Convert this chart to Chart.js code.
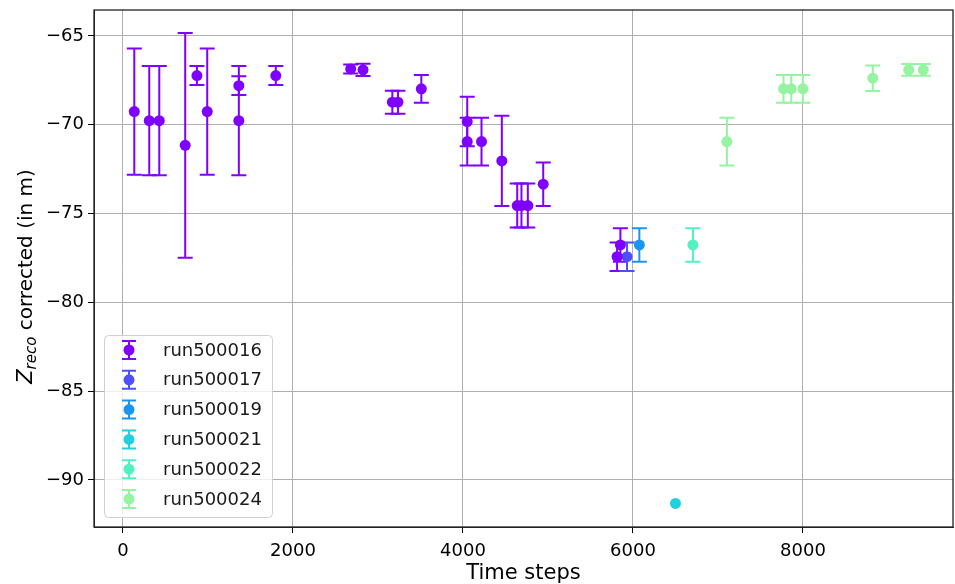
<!DOCTYPE html>
<html lang="en">
<head>
    <meta charset="UTF-8">
    <title>Zreco corrected vs time steps</title>
    <script src="https://cdn.jsdelivr.net/npm/chart.js"></script>
    <style>
        body { margin: 0; background: #fff; }
        #chart-container { width: 955px; height: 584px; }
    </style>
</head>
<body>
    <div id="chart-container">
        <canvas id="zChart" width="955" height="584"></canvas>
    </div>

    <script>
        // run names and colours (rainbow colormap)
        const runNames = ["run500016", "run500017", "run500019", "run500021", "run500022", "run500024"];
        const runColors = ["#8000ff", "#4d4ffc", "#1a96f2", "#1fd0de", "#52f1c4", "#95f3a2"];

        // time step, Z value, error
        const steps16 = [133, 309, 427, 732, 870, 991, 1363, 1363, 1798, 2679, 2824, 3169, 3235, 3510,
                         4050, 4050, 4218, 4457, 4638, 4688, 4763, 4944, 5813, 5852];
        const z16 = [-69.26, -69.77, -69.77, -71.16, -67.23, -69.26, -67.80, -69.77, -67.23, -66.86, -66.91, -68.73, -68.73, -67.98,
                     -69.82, -70.95, -70.95, -72.04, -74.55, -74.55, -74.55, -73.35, -77.43, -76.77];
        const err16 = [3.55, 3.07, 3.07, 6.33, 0.53, 3.55, 0.53, 3.07, 0.53, 0.25, 0.35, 0.65, 0.65, 0.78,
                       1.39, 1.35, 1.35, 2.54, 1.24, 1.24, 1.24, 1.22, 0.80, 0.94];

        const steps17 = [5930];
        const z17 = [-77.43];
        const err17 = [0.80];

        const steps19 = [6075];
        const z19 = [-76.77];
        const err19 = [0.94];

        const steps21 = [6500];
        const z21 = [-91.32];
        const err21 = [0];

        const steps22 = [6705];
        const z22 = [-76.77];
        const err22 = [0.94];

        const steps24 = [7105, 7771, 7862, 7999, 8821, 9244, 9416];
        const z24 = [-70.95, -67.98, -67.98, -67.98, -67.38, -66.91, -66.91];
        const err24 = [1.35, 0.78, 0.78, 0.78, 0.72, 0.33, 0.33];

        const xTicks = [0, 2000, 4000, 6000, 8000];
        const yTicks = [-90, -85, -80, -75, -70, -65];

        const allSteps = [steps16, steps17, steps19, steps21, steps22, steps24];
        const allZ = [z16, z17, z19, z21, z22, z24];
        const allErr = [err16, err17, err19, err21, err22, err24];

        const datasets = runNames.map((name, i) => ({
            label: name,
            data: allSteps[i].map((s, j) => ({ x: s, y: allZ[i][j], err: allErr[i][j] })),
            backgroundColor: runColors[i],
            borderColor: runColors[i],
            borderWidth: 0,
            pointRadius: 5.5,
            pointHoverRadius: 5.5
        }));

        const minus = v => (v < 0 ? "\u2212" + Math.abs(v) : String(v));

        // vertical error bars with caps
        const errorBars = {
            id: "errorBars",
            beforeDatasetsDraw(chart) {
                const { ctx, chartArea, scales: { x, y } } = chart;
                ctx.save();
                ctx.beginPath();
                ctx.rect(chartArea.left, chartArea.top, chartArea.right - chartArea.left, chartArea.bottom - chartArea.top);
                ctx.clip();
                chart.data.datasets.forEach(ds => {
                    ctx.strokeStyle = ds.backgroundColor;
                    ctx.lineWidth = 2;
                    ds.data.forEach(p => {
                        if (!p.err) return;
                        const px = x.getPixelForValue(p.x);
                        const top = y.getPixelForValue(p.y + p.err);
                        const bot = y.getPixelForValue(p.y - p.err);
                        ctx.beginPath();
                        ctx.moveTo(px, top); ctx.lineTo(px, bot);
                        ctx.moveTo(px - 7.5, top); ctx.lineTo(px + 7.5, top);
                        ctx.moveTo(px - 7.5, bot); ctx.lineTo(px + 7.5, bot);
                        ctx.stroke();
                    });
                });
                ctx.restore();
            },
            afterDraw(chart) {
                const { ctx, chartArea: a } = chart;
                ctx.save();
                // axes frame
                ctx.strokeStyle = "#222";
                ctx.lineWidth = 1.3;
                ctx.strokeRect(a.left, a.top, a.right - a.left, a.bottom - a.top);

                // y axis title with subscript
                ctx.fillStyle = "#000";
                ctx.translate(32, (a.top + a.bottom) / 2 + 8);
                ctx.rotate(-Math.PI / 2);
                ctx.textBaseline = "alphabetic";
                const big = "italic 21px 'DejaVu Sans'";
                const small = "italic 15px 'DejaVu Sans'";
                const rest = "20px 'DejaVu Sans'";
                ctx.font = big; const wZ = ctx.measureText("Z").width;
                ctx.font = small; const wS = ctx.measureText("reco").width;
                ctx.font = rest; const wR = ctx.measureText(" corrected (in m)").width;
                let cx = -(wZ + wS + wR) / 2;
                ctx.font = big; ctx.fillText("Z", cx, 0); cx += wZ;
                ctx.font = small; ctx.fillText("reco", cx, 4); cx += wS;
                ctx.font = rest; ctx.fillText(" corrected (in m)", cx, 0);
                ctx.restore();

                // legend
                const lx = 104, ly = 335, lw = 168, lh = 182;
                ctx.save();
                ctx.fillStyle = "rgba(255,255,255,0.8)";
                ctx.strokeStyle = "#d0d0d0";
                ctx.lineWidth = 1;
                ctx.beginPath();
                ctx.roundRect(lx + 0.5, ly + 0.5, lw, lh, 4);
                ctx.fill();
                ctx.stroke();
                runNames.forEach((name, i) => {
                    const ry = 350 + i * 29.8;
                    const sx = 129;
                    ctx.strokeStyle = runColors[i];
                    ctx.fillStyle = runColors[i];
                    ctx.lineWidth = 2;
                    ctx.beginPath();
                    ctx.moveTo(sx, ry - 9); ctx.lineTo(sx, ry + 9);
                    ctx.moveTo(sx - 7, ry - 9); ctx.lineTo(sx + 7, ry - 9);
                    ctx.moveTo(sx - 7, ry + 9); ctx.lineTo(sx + 7, ry + 9);
                    ctx.stroke();
                    ctx.beginPath();
                    ctx.arc(sx, ry, 5.5, 0, Math.PI * 2);
                    ctx.fill();
                    ctx.fillStyle = "#1a1a1a";
                    ctx.font = "18px 'DejaVu Sans'";
                    ctx.textBaseline = "middle";
                    ctx.fillText(name, 163, ry + 1);
                });
                ctx.restore();
            }
        };

        new Chart(document.getElementById("zChart").getContext("2d"), {
            type: "scatter",
            data: { datasets: datasets },
            plugins: [errorBars],
            options: {
                responsive: false,
                devicePixelRatio: 1,
                animation: false,
                events: [],
                layout: { autoPadding: false, padding: { top: 10, right: 2, left: 0, bottom: 0 } },
                plugins: {
                    legend: { display: false },
                    tooltip: { enabled: false }
                },
                scales: {
                    x: {
                        type: "linear",
                        min: -341,
                        max: 9765,
                        afterBuildTicks: s => { s.ticks = xTicks.map(v => ({ value: v })); },
                        afterFit: s => { s.height = 57; s.paddingLeft = 0; s.paddingRight = 0; },
                        ticks: {
                            color: "#000",
                            font: { family: "DejaVu Sans", size: 18 },
                            padding: 8,
                            maxRotation: 0,
                            callback: v => minus(v)
                        },
                        grid: { color: "#b0b0b0", tickColor: "#000", tickLength: 6, lineWidth: 1 },
                        border: { color: "#222" },
                        title: {
                            display: true,
                            text: "Time steps",
                            color: "#000",
                            font: { family: "DejaVu Sans", size: 21 },
                            padding: { top: 0, bottom: -2 }
                        }
                    },
                    y: {
                        min: -92.65,
                        max: -63.54,
                        afterBuildTicks: s => { s.ticks = yTicks.map(v => ({ value: v })); },
                        afterFit: s => { s.width = 94; s.paddingTop = 0; s.paddingBottom = 0; },
                        ticks: {
                            color: "#000",
                            font: { family: "DejaVu Sans", size: 18 },
                            padding: 4,
                            callback: v => minus(v)
                        },
                        grid: { color: "#b0b0b0", tickColor: "#000", tickLength: 6, lineWidth: 1 },
                        border: { color: "#222" }
                    }
                }
            }
        });
    </script>
</body>
</html>
